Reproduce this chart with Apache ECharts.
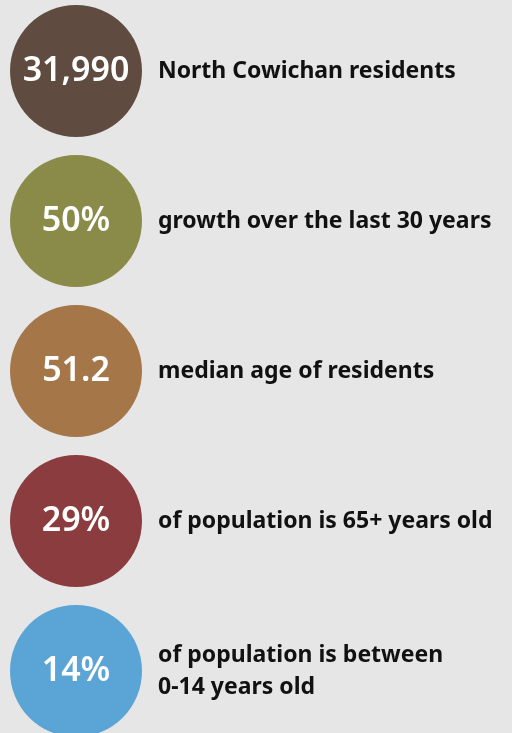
<!DOCTYPE html>
<html>
<head>
<meta charset="utf-8">
<script src="https://cdn.jsdelivr.net/npm/echarts@6/dist/echarts.min.js"></script>
<style>
  html, body { margin: 0; padding: 0; background: #e6e6e6; }
  #main { width: 512px; height: 733px; }
</style>
</head>
<body>
<div id="main"></div>
<script>
// stats shown in the circles, and what they describe
var statValues = ['31,990', '50%', '51.2', '29%', '14%']
var statLabels = [
  'North Cowichan residents',
  'growth over the last 30 years',
  'median age of residents',
  'of population is 65+ years old',
  'of population is between\n0-14 years old'
]
var circleColors = ['#5f4b40', '#8a8b48', '#a57648', '#8b3c3f', '#5aa5d6']

var rows = statValues.map(function (v, i) { return i })

var myChart = echarts.init(document.getElementById('main'))
myChart.setOption({
  backgroundColor: '#e6e6e6',
  animation: false,
  grid: { left: 0, top: -4, width: 512, height: 750, outerBoundsMode: 'none' },
  xAxis: { type: 'value', min: 0, max: 512, show: false },
  yAxis: { type: 'category', data: rows, inverse: true, show: false },
  series: [
    {
      // coloured circles with the number inside
      type: 'scatter',
      symbolSize: 132,
      data: rows.map(function (i) {
        return {
          value: [76, i],
          itemStyle: { color: circleColors[i], opacity: 1 },
          label: { formatter: statValues[i] }
        }
      }),
      label: {
        show: true,
        position: 'inside',
        color: '#ffffff',
        fontFamily: 'Noto Sans',
        fontWeight: 600,
        fontSize: 34
      }
    },
    {
      // description text to the right of each circle
      type: 'scatter',
      symbolSize: 132,
      itemStyle: { color: 'rgba(0,0,0,0)', opacity: 1 },
      data: rows.map(function (i) {
        return { value: [76, i], label: { formatter: statLabels[i] } }
      }),
      label: {
        show: true,
        position: 'right',
        distance: 16,
        color: '#111111',
        fontFamily: 'Noto Sans',
        fontWeight: 'bold',
        fontSize: 23,
        lineHeight: 32
      }
    }
  ]
})
</script>
</body>
</html>
